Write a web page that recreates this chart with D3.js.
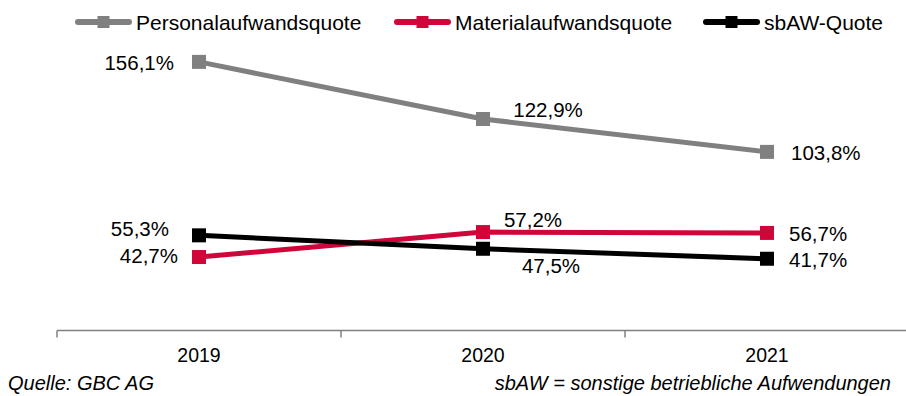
<!DOCTYPE html>
<html>
<head>
<meta charset="utf-8">
<script src="https://cdn.jsdelivr.net/npm/d3@7/dist/d3.min.js"></script>
<style>
  html, body { margin: 0; padding: 0; background: #fff; }
  svg { display: block; font-family: "Liberation Sans", Arial, sans-serif; }
</style>
</head>
<body>
<svg id="chart" width="906" height="396"></svg>
<script>
// Kennzahlen je Geschäftsjahr (in % der Umsatzerlöse)
const years = ["2019", "2020", "2021"];
const personal = [156.1, 122.9, 103.8];
const material = [42.7, 57.2, 56.7];
const sbaw = [55.3, 47.5, 41.7];
const seriesNames = ["Personalaufwandsquote", "Materialaufwandsquote", "sbAW-Quote"];
const seriesColors = ["#808080", "#D0063A", "#000000"];

const fmt = v => d3.format(".1f")(v).replace(".", ",") + "%";
const FS = 20.5;

const svg = d3.select("#chart");
const plot = { left: 57, right: 909, top: 21, bottom: 330.5 };

const x = d3.scaleBand().domain(years).range([plot.left, plot.right]).padding(0);
const y = d3.scaleLinear().domain([0, 180]).range([plot.bottom, plot.bottom - 180 * 1.7208]);
const cx = d => x(d) + x.bandwidth() / 2;

// Kategorienachse mit Trennstrichen zwischen den Jahren
const gAxis = svg.append("g").attr("transform", `translate(0,${plot.bottom})`);
gAxis.append("line").attr("x1", plot.left).attr("x2", 906).attr("y1", 0).attr("y2", 0)
  .attr("stroke", "#808080").attr("stroke-width", 1.5);
const bounds = [plot.left].concat(years.map(d => x(d) + x.bandwidth()));
gAxis.selectAll("line.sep").data(bounds).join("line").attr("class", "sep")
  .attr("x1", d => d).attr("x2", d => d).attr("y1", 0).attr("y2", 7)
  .attr("stroke", "#808080").attr("stroke-width", 1.5);
gAxis.selectAll("text.cat").data(years).join("text").attr("class", "cat")
  .attr("x", d => cx(d)).attr("y", 31).attr("text-anchor", "middle")
  .attr("font-size", 19.5).attr("fill", "#000").text(d => d);

const data = [personal, material, sbaw];
const line = d3.line().x((d, i) => cx(years[i])).y(d => y(d));

// Linien mit quadratischen Markern
data.forEach((vals, k) => {
  svg.append("path").datum(vals).attr("d", line)
    .attr("fill", "none").attr("stroke", seriesColors[k]).attr("stroke-width", 5)
    .attr("stroke-linejoin", "round");
  svg.selectAll(null).data(vals).join("rect")
    .attr("x", (d, i) => cx(years[i]) - 7).attr("y", d => y(d) - 7)
    .attr("width", 14).attr("height", 14).attr("fill", seriesColors[k]);
});

// Datenbeschriftungen: [dx, Grundlinien-Versatz, Ausrichtung] je Punkt
const labelPos = [
  [[-25, 8, "end"], [65, -2, "middle"], [24, 8, "start"]],
  [[-21, 6, "end"], [50, -5, "middle"], [22, 8, "start"]],
  [[-30, 1, "end"], [68, 24, "middle"], [22, 8, "start"]]
];
data.forEach((vals, k) => {
  svg.selectAll(null).data(vals).join("text")
    .attr("x", (d, i) => cx(years[i]) + labelPos[k][i][0])
    .attr("y", (d, i) => y(d) + labelPos[k][i][1])
    .attr("text-anchor", (d, i) => labelPos[k][i][2])
    .attr("font-size", FS).attr("fill", "#000")
    .text(d => fmt(d));
});

// Legende
const legendX = [76, 395, 704];
const lg = svg.append("g");
seriesNames.forEach((name, k) => {
  const g = lg.append("g").attr("transform", `translate(${legendX[k]},22)`);
  g.append("line").attr("x1", 2).attr("x2", 53).attr("y1", 0).attr("y2", 0)
    .attr("stroke", seriesColors[k]).attr("stroke-width", 6).attr("stroke-linecap", "round");
  g.append("rect").attr("x", 21.5).attr("y", -6).attr("width", 12).attr("height", 12).attr("fill", seriesColors[k]);
  g.append("text").attr("x", 60).attr("y", 7.5)
    .attr("font-size", 21).attr("fill", "#000").text(name);
});

// Fußzeile
svg.append("text").attr("x", 8).attr("y", 390).attr("font-size", 20)
  .attr("font-style", "italic").attr("fill", "#000").text("Quelle: GBC AG");
svg.append("text").attr("x", 891).attr("y", 390).attr("font-size", 20)
  .attr("text-anchor", "end").attr("font-style", "italic").attr("fill", "#000")
  .text("sbAW = sonstige betriebliche Aufwendungen");
</script>
</body>
</html>
